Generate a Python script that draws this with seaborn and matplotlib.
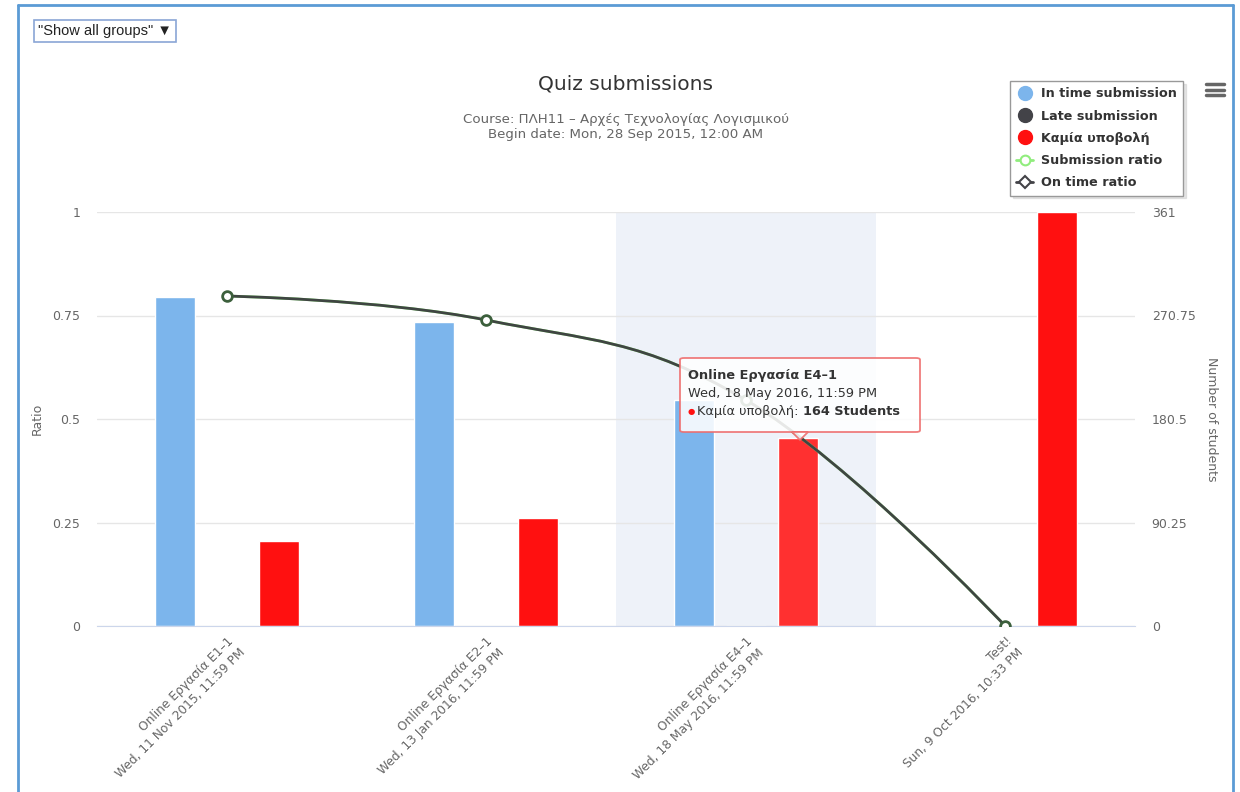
# Quiz submissions chart (Highcharts style) rebuilt with seaborn
import pandas as pd
import seaborn as sns
import matplotlib.pyplot as plt
from matplotlib.lines import Line2D
from matplotlib.path import Path
from matplotlib.patches import PathPatch, FancyBboxPatch, Polygon

# Data
quiz_names = ["Online Εργασία E1–1", "Online Εργασία E2–1", "Online Εργασία E4–1", "Test!"]
quiz_dates = ["Wed, 11 Nov 2015, 11:59 PM", "Wed, 13 Jan 2016, 11:59 PM",
              "Wed, 18 May 2016, 11:59 PM", "Sun, 9 Oct 2016, 10:33 PM"]
in_time = [287, 265, 197, 0]
late = [0, 0, 0, 0]
no_submission = [74, 94, 164, 361]
submission_ratio = [0.797, 0.739, 0.546, 0.0]
on_time_ratio = [0.797, 0.739, 0.546, 0.0]
series_names = ["In time submission", "Late submission", "Καμία υποβολή"]
series_colors = ["#7cb5ec", "#434348", "#ff1010"]
students_ticks = [0, 90.25, 180.5, 270.75, 361]
ratio_ticks = [0, 0.25, 0.5, 0.75, 1]

# long table for seaborn
rows = []
for i, q in enumerate(quiz_names):
    for name, vals in zip(series_names, [in_time, late, no_submission]):
        rows.append({"quiz": q, "series": name, "students": vals[i]})
df = pd.DataFrame(rows)

sns.set_style("white")
plt.rcParams["font.family"] = ["DejaVu Sans"]

W, H = 1240, 792
fig = plt.figure(figsize=(12.4, 7.92), dpi=100)
ax = fig.add_axes([97 / W, 1 - 626 / H, (1135 - 97) / W, (626 - 212) / H])

# hover band on the 3rd category
ax.axvspan(1.5, 2.5, color="#eef2f9", zorder=0.3, lw=0)

sns.barplot(data=df, x="quiz", y="students", hue="series", palette=series_colors,
            width=0.6, gap=0.23, saturation=1, legend=False, ax=ax, zorder=2)
ax.containers[2][2].set_facecolor("#ff3030")  # hovered bar

ax.set_ylim(0, 361)
ax.set_xlim(-0.5, 3.5)
ax.set_yticks(students_ticks)
ax.set_yticklabels(["0", "90.25", "180.5", "270.75", "361"])
ax.grid(axis="y", color="#e6e6e6", lw=1)
ax.set_axisbelow(True)
ax.set_xlabel("")
ax.set_ylabel("")

# ratio axis (twin) with the spline line
ax2 = ax.twinx()
ax2.set_ylim(0, 1)
ax2.set_yticks(ratio_ticks)
ax2.set_yticklabels(["0", "0.25", "0.5", "0.75", "1"])
ax.yaxis.tick_right()
ax2.yaxis.tick_left()

# Highcharts-like spline through the data points
xs = list(range(len(quiz_names)))
ys = on_time_ratio
sm = 1.5
ctrl = []
for i in range(len(xs)):
    if i == 0 or i == len(xs) - 1:
        ctrl.append(((xs[i], ys[i]), (xs[i], ys[i])))
        continue
    lx = (sm * xs[i] + xs[i - 1]) / (sm + 1)
    ly = (sm * ys[i] + ys[i - 1]) / (sm + 1)
    rx = (sm * xs[i] + xs[i + 1]) / (sm + 1)
    ry = (sm * ys[i] + ys[i + 1]) / (sm + 1)
    corr = (ry - ly) * (rx - xs[i]) / (rx - lx) + ys[i] - ry
    ctrl.append(((lx, ly + corr), (rx, ry + corr)))
verts = [(xs[0], ys[0])]
codes = [Path.MOVETO]
for i in range(1, len(xs)):
    verts += [ctrl[i - 1][1], ctrl[i][0], (xs[i], ys[i])]
    codes += [Path.CURVE4] * 3
ax2.add_patch(PathPatch(Path(verts, codes), fill=False, ec="#90ed7d", lw=2, zorder=3))
ax2.add_patch(PathPatch(Path(verts, codes), fill=False, ec="#3f4542", lw=2, zorder=4))
ax2.plot(xs, submission_ratio, ls="none", marker="o", ms=7, mfc="white",
         mec="#3c5f3c", mew=2, zorder=5)

for a in (ax, ax2):
    for s in ["top", "left", "right"]:
        a.spines[s].set_visible(False)
ax2.spines["bottom"].set_visible(False)
ax.spines["bottom"].set_color("#ccd6eb")
ax.tick_params(axis="y", length=0, pad=12, labelsize=9, labelcolor="#666666")
ax2.tick_params(axis="y", length=0, pad=12, labelsize=9, labelcolor="#666666")

# x axis: boundary ticks and rotated two-line labels
ax.set_xticks([i - 0.5 for i in range(5)], minor=True)
ax.tick_params(axis="x", which="minor", length=10, color="#ccd6eb", width=1)
ax.set_xticks(xs)
ax.set_xticklabels([f"{n}\n{d}" for n, d in zip(quiz_names, quiz_dates)])
ax.tick_params(axis="x", which="major", length=0, pad=6, labelsize=8.8, labelcolor="#666666")
for lab in ax.get_xticklabels():
    lab.set_rotation(45)
    lab.set_rotation_mode("anchor")
    lab.set_ha("right")
    lab.set_va("top")
    lab.set_multialignment("right")
    lab.set_linespacing(1.35)

# axis titles
fig.text(37 / W, 1 - 419 / H, "Ratio", rotation=90, ha="center", va="center",
         fontsize=9, color="#666666")
fig.text(1211 / W, 1 - 419 / H, "Number of students", rotation=270, ha="center",
         va="center", fontsize=9, color="#666666")

# title + subtitle
fig.text(625 / W, 1 - 84 / H, "Quiz submissions", ha="center", va="center",
         fontsize=14.5, color="#333333")
fig.text(626 / W, 1 - 127 / H,
         "Course: ΠΛΗ11 – Αρχές Τεχνολογίας Λογισμικού\nBegin date: Mon, 28 Sep 2015, 12:00 AM",
         ha="center", va="center", fontsize=9.6, color="#666666", linespacing=1.2)

# legend
handles = [
    Line2D([], [], ls="none", marker="o", ms=10, color=series_colors[0]),
    Line2D([], [], ls="none", marker="o", ms=10, color=series_colors[1]),
    Line2D([], [], ls="none", marker="o", ms=10, color=series_colors[2]),
    Line2D([], [], color="#90ed7d", lw=2, marker="o", ms=7, mfc="white", mec="#90ed7d", mew=1.5),
    Line2D([], [], color="#434348", lw=2, marker="D", ms=6, mfc="white", mec="#434348", mew=1.5),
]
leg = fig.legend(handles, ["In time submission", "Late submission", "Καμία υποβολή",
                           "Submission ratio", "On time ratio"],
                 loc="upper left", bbox_to_anchor=(1010 / W, 1 - 81 / H),
                 frameon=True, fancybox=False, shadow={"color": "#cccccc", "alpha": 0.5},
                 prop={"weight": "bold", "size": 9.2}, labelspacing=0.72,
                 handlelength=1.3, handletextpad=0.6, borderpad=0.5, borderaxespad=0)
leg.get_frame().set_edgecolor("#999999")
for t in leg.get_texts():
    t.set_color("#333333")

# hamburger menu icon
for yy in (84, 89.5, 95):
    fig.add_artist(Line2D([1206 / W, 1224 / W], [1 - yy / H, 1 - yy / H],
                          color="#666666", lw=2.5))

# group selector box
fig.text(38 / W, 1 - 31 / H, "\"Show all groups\" ▼", ha="left", va="center",
         fontsize=10.5, color="#222222", family=["Liberation Sans", "DejaVu Sans"],
         bbox=dict(boxstyle="square,pad=0.3", fc="white", ec="#8aa6d6", lw=1.2))

# outer frame of the screenshot
for xa, ya in [((18, 18), (5, 792)), ((18, 1233), (5, 5)), ((1233, 1233), (5, 792))]:
    fig.add_artist(Line2D([x / W for x in xa], [1 - y / H for y in ya],
                          color="#5b9bd5", lw=2))

# tooltip for the hovered point
tt = ax2.transAxes
def fx(px):
    return (px - 97) / 1038
def fy(py):
    return (626 - py) / 414
box = FancyBboxPatch((fx(680), fy(432)), fx(920) - fx(680), fy(358) - fy(432),
                     boxstyle="round,pad=0,rounding_size=0.004", transform=tt,
                     fc="white", ec="#ee6b6b", lw=1.3, alpha=0.88, zorder=10, clip_on=False)
ax2.add_patch(box)
ax2.add_patch(Polygon([(fx(792), fy(432)), (fx(808), fy(432)), (fx(800), fy(440))],
                      closed=True, transform=tt, fc="white", ec="#ee6b6b", lw=1.3,
                      alpha=0.88, zorder=10, clip_on=False))
ax2.text(fx(688), fy(376), "Online Εργασία E4–1", transform=tt, fontsize=9.3,
         fontweight="bold", color="#333333", va="center", zorder=11)
ax2.text(fx(688), fy(394), "Wed, 18 May 2016, 11:59 PM", transform=tt, fontsize=9.3,
         color="#333333", va="center", zorder=11)
ax2.text(fx(688), fy(412), "●", transform=tt, fontsize=6, color="#ff1010",
         va="center", zorder=11)
t1 = ax2.text(fx(697), fy(412), "Καμία υποβολή: ", transform=tt, fontsize=9.3,
              color="#333333", va="center", zorder=11)
ax2.annotate("164 Students", xy=(1, 0), xycoords=t1, va="bottom", fontsize=9.3,
             fontweight="bold", color="#333333", zorder=11)

plt.savefig("out.png", dpi=100)
